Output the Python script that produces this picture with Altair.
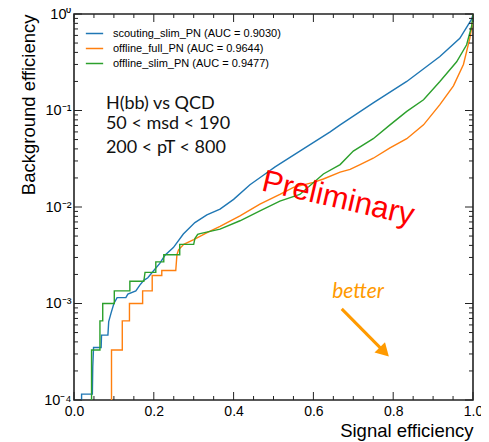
import altair as alt
import pandas as pd

series_names = [
    "scouting_slim_PN (AUC = 0.9030)",
    "offline_full_PN (AUC = 0.9644)",
    "offline_slim_PN (AUC = 0.9477)",
]
series_colors = ["#1f77b4", "#ff7f0e", "#2ca02c"]

blue_x = [0.019, 0.019, 0.046, 0.047, 0.049, 0.068, 0.069, 0.085, 0.087, 0.093, 0.1, 0.108, 0.13, 0.135,
          0.155, 0.165, 0.175, 0.185, 0.2, 0.215, 0.228, 0.249, 0.274, 0.303, 0.333, 0.366, 0.4, 0.441,
          0.479, 0.504, 0.566, 0.642, 0.667, 0.75, 0.834, 0.917, 0.967, 0.997, 1.0]
blue_y = [5e-5, 1.15e-4, 1.15e-4, 2.2e-4, 3.5e-4, 3.5e-4, 4.7e-4, 4.7e-4, 6.5e-4, 8e-4, 1.0e-3, 1.15e-3,
          1.15e-3, 1.25e-3, 1.35e-3, 1.55e-3, 1.74e-3, 1.85e-3, 2.2e-3, 2.6e-3, 3.16e-3, 3.8e-3, 5.25e-3,
          6.9e-3, 8.3e-3, 9.5e-3, 1.2e-2, 1.7e-2, 2.2e-2, 2.6e-2, 3.8e-2, 6.0e-2, 7.1e-2, 0.12, 0.2,
          0.363, 0.56, 0.89, 1.0]

orange_x = [0.094, 0.094, 0.121, 0.121, 0.139, 0.139, 0.172, 0.172, 0.196, 0.196, 0.22, 0.22, 0.255,
            0.258, 0.262, 0.275, 0.3, 0.336, 0.366, 0.416, 0.466, 0.516, 0.55, 0.6, 0.625, 0.667, 0.692,
            0.717, 0.75, 0.792, 0.834, 0.876, 0.917, 0.951, 0.976, 0.992, 0.999, 1.0]
orange_y = [5e-5, 3.3e-4, 3.3e-4, 6.6e-4, 6.6e-4, 1.0e-3, 1.0e-3, 1.35e-3, 1.35e-3, 1.95e-3, 1.95e-3,
            2.2e-3, 2.2e-3, 3.2e-3, 3.6e-3, 4.1e-3, 4.6e-3, 5.5e-3, 6.3e-3, 8.1e-3, 1.07e-2, 1.35e-2,
            1.6e-2, 1.8e-2, 1.95e-2, 2.3e-2, 2.45e-2, 2.75e-2, 3.2e-2, 4.1e-2, 5.1e-2, 7.1e-2, 0.115,
            0.18, 0.3, 0.56, 0.83, 1.0]

green_x = [0.044, 0.044, 0.065, 0.065, 0.072, 0.072, 0.101, 0.101, 0.14, 0.14, 0.175, 0.178, 0.205,
           0.205, 0.225, 0.225, 0.265, 0.265, 0.3, 0.303, 0.31, 0.316, 0.366, 0.416, 0.466, 0.516,
           0.566, 0.625, 0.667, 0.7, 0.75, 0.792, 0.834, 0.876, 0.917, 0.959, 0.984, 0.997, 1.0]
green_y = [5e-5, 3.3e-4, 3.3e-4, 6.6e-4, 6.6e-4, 1.0e-3, 1.0e-3, 1.35e-3, 1.35e-3, 1.7e-3, 1.7e-3,
           2.1e-3, 2.1e-3, 2.7e-3, 2.7e-3, 3.2e-3, 3.2e-3, 4.1e-3, 4.1e-3, 4.7e-3, 5.2e-3, 5.3e-3,
           5.9e-3, 7.2e-3, 9.1e-3, 1.15e-2, 1.35e-2, 2.2e-2, 2.75e-2, 3.8e-2, 5.1e-2, 7.1e-2, 9.8e-2,
           0.129, 0.2, 0.32, 0.48, 0.76, 1.0]

x_major = [0.0, 0.2, 0.4, 0.6, 0.8, 1.0]
x_minor = [0.05, 0.1, 0.15, 0.25, 0.3, 0.35, 0.45, 0.5, 0.55, 0.65, 0.7, 0.75, 0.85, 0.9, 0.95]
y_major = [1e-4, 1e-3, 1e-2, 1e-1, 1.0]
y_minor = [m * d for d in [1e-4, 1e-3, 1e-2, 1e-1] for m in [2, 3, 4, 5, 6, 7, 8, 9]]

info_lines = ["H(bb) vs QCD", "50 < msd < 190", "200 < pT < 800"]
info_x = [0.08, 0.08, 0.08]
info_y = [0.118, 0.0718, 0.0406]

rows = []
for name, xs, ys in zip(series_names, [blue_x, orange_x, green_x], [blue_y, orange_y, green_y]):
    for i, (a, b) in enumerate(zip(xs, ys)):
        rows.append({"series": name, "x": a, "y": b, "i": i})
df = pd.DataFrame(rows)

W, H = 399, 386
xscale = alt.Scale(domain=[0, 1], nice=False)
yscale = alt.Scale(type="log", domain=[1e-4, 1], nice=False)
ORANGE = "#ff9a00"

lines = alt.Chart(df).mark_line(clip=True, strokeWidth=1.4).encode(
    x=alt.X("x:Q", scale=xscale, axis=alt.Axis(
        values=x_major, format=".1f", ticks=False, domain=False, grid=False,
        labelFontSize=14, labelPadding=4, title="Signal efficiency", titleAnchor="end",
        titleFontSize=18.5, titleFontWeight="normal", titlePadding=3, labelFlush=False)),
    y=alt.Y("y:Q", scale=yscale, axis=alt.Axis(
        values=y_major, ticks=False, domain=False, grid=False,
        labelExpr="['10⁻⁴','10⁻³','10⁻²','10⁻¹','10⁰'][round(log(datum.value)/LN10)+4]",
        labelFontSize=14.5, labelPadding=3, labelFlush=False,
        title="Background efficiency", titleFontSize=18.5, titleFontWeight="normal",
        titleAngle=270, titleAlign="right", titleBaseline="middle", titleX=-46, titleY=0)),
    color=alt.Color("series:N", scale=alt.Scale(domain=series_names, range=series_colors),
                    sort=series_names,
                    legend=alt.Legend(title=None, orient="none", legendX=11, legendY=10,
                                      symbolType="stroke", symbolSize=300, symbolStrokeWidth=1.5,
                                      labelFontSize=11, labelOffset=9, padding=0, rowPadding=0,
                                      labelLimit=0)),
    order="i:Q",
)

tick_col = "#222222"
xmaj = pd.DataFrame({"x": x_major})
xmin = pd.DataFrame({"x": x_minor})
ymaj = pd.DataFrame({"y": y_major})
ymin = pd.DataFrame({"y": y_minor})

def xticks(d, ln):
    b = alt.Chart(d).mark_rule(color=tick_col, strokeWidth=1).encode(
        x=alt.X("x:Q", scale=xscale), y=alt.value(H), y2=alt.value(H - ln))
    t = alt.Chart(d).mark_rule(color=tick_col, strokeWidth=1).encode(
        x=alt.X("x:Q", scale=xscale), y=alt.value(0), y2=alt.value(ln))
    return b + t

def yticks(d, ln):
    l = alt.Chart(d).mark_rule(color=tick_col, strokeWidth=1).encode(
        y=alt.Y("y:Q", scale=yscale), x=alt.value(0), x2=alt.value(ln))
    r = alt.Chart(d).mark_rule(color=tick_col, strokeWidth=1).encode(
        y=alt.Y("y:Q", scale=yscale), x=alt.value(W - ln), x2=alt.value(W))
    return l + r

info = alt.Chart(pd.DataFrame({"x": info_x, "y": info_y, "t": info_lines})).mark_text(
    align="left", baseline="middle", fontSize=18, font="Lato", color="#111111").encode(
    x=alt.X("x:Q", scale=xscale), y=alt.Y("y:Q", scale=yscale), text="t:N")

prelim = alt.Chart(pd.DataFrame({"x": [0.662], "y": [0.0121], "t": ["Preliminary"]})).mark_text(
    align="center", baseline="middle", fontSize=31, angle=13, color="#ff0000").encode(
    x=alt.X("x:Q", scale=xscale), y=alt.Y("y:Q", scale=yscale), text="t:N")

better = alt.Chart(pd.DataFrame({"x": [0.712], "y": [1.33e-3], "t": ["better"]})).mark_text(
    align="center", baseline="middle", fontSize=21, font="Lato", fontStyle="italic",
    color=ORANGE).encode(
    x=alt.X("x:Q", scale=xscale), y=alt.Y("y:Q", scale=yscale), text="t:N")

arrow_line = alt.Chart(pd.DataFrame({"x": [0.671], "y": [8.8e-4], "x2": [0.7777], "y2": [3.15e-4]})).mark_rule(
    color=ORANGE, strokeWidth=3).encode(
    x=alt.X("x:Q", scale=xscale), y=alt.Y("y:Q", scale=yscale), x2="x2:Q", y2="y2:Q")

arrow_head = alt.Chart(pd.DataFrame({"x": [0.7777], "y": [3.15e-4]})).mark_point(
    shape="triangle-up", filled=True, size=220, angle=135, color=ORANGE, opacity=1).encode(
    x=alt.X("x:Q", scale=xscale), y=alt.Y("y:Q", scale=yscale))

chart = alt.layer(
    lines, xticks(xmaj, 8), xticks(xmin, 4), yticks(ymaj, 8), yticks(ymin, 4),
    info, prelim, better, arrow_line, arrow_head
).properties(
    width=W, height=H,
    padding={"left": 66, "top": 6, "right": 8, "bottom": 46},
    autosize=alt.AutoSizeParams(type="none"),
).configure(font="Liberation Sans").configure_view(stroke="#222222", strokeWidth=1.6)

chart.save("out.html", embed_options={"renderer": "svg", "actions": False})
